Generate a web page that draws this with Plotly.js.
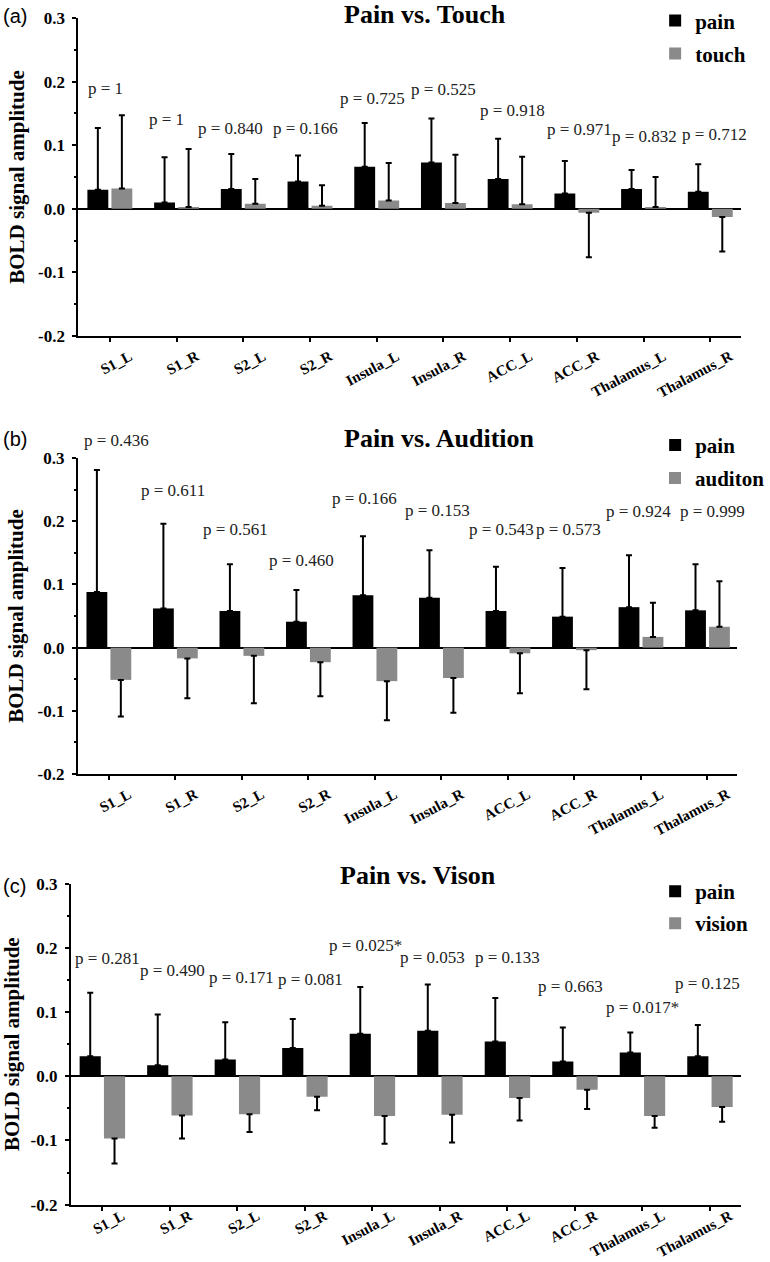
<!DOCTYPE html>
<html>
<head>
<meta charset="utf-8">
<script src="https://cdn.plot.ly/plotly-3.0.1.min.js"></script>
<style>
  html, body { margin: 0; padding: 0; background: #fff; }
  #chart { width: 770px; height: 1262px; }
</style>
</head>
<body>
<div id="chart"></div>
<script>
// ---------------- DATA ----------------
const regions = ['S1_L', 'S1_R', 'S2_L', 'S2_R', 'Insula_L', 'Insula_R', 'ACC_L', 'ACC_R', 'Thalamus_L', 'Thalamus_R'];

// Panel (a) Pain vs. Touch
const painA     = [0.030, 0.010, 0.031, 0.043, 0.066, 0.073, 0.047, 0.024, 0.031, 0.027];
const painAErr  = [0.097, 0.071, 0.055, 0.041, 0.069, 0.069, 0.063, 0.051, 0.030, 0.043];
const touchA    = [0.032, 0.003, 0.008, 0.005, 0.013, 0.009, 0.007, -0.006, 0.003, -0.013];
const touchAErr = [0.115, 0.091, 0.039, 0.032, 0.059, 0.076, 0.075, 0.070, 0.047, 0.054];
const pValuesA  = ['p = 1', 'p = 1', 'p = 0.840', 'p = 0.166', 'p = 0.725', 'p = 0.525', 'p = 0.918', 'p = 0.971', 'p = 0.832', 'p = 0.712'];

// Panel (b) Pain vs. Audition
const painB        = [0.088, 0.062, 0.058, 0.041, 0.083, 0.079, 0.058, 0.049, 0.064, 0.059];
const painBErr     = [0.193, 0.134, 0.074, 0.050, 0.093, 0.075, 0.070, 0.077, 0.082, 0.073];
const auditionB    = [-0.051, -0.017, -0.013, -0.023, -0.053, -0.048, -0.009, -0.004, 0.017, 0.033];
const auditionBErr = [0.058, 0.063, 0.075, 0.054, 0.062, 0.055, 0.063, 0.062, 0.054, 0.072];
const pValuesB     = ['p = 0.436', 'p = 0.611', 'p = 0.561', 'p = 0.460', 'p = 0.166', 'p = 0.153', 'p = 0.543', 'p = 0.573', 'p = 0.924', 'p = 0.999'];

// Panel (c) Pain vs. Vison
const painC      = [0.031, 0.017, 0.026, 0.044, 0.066, 0.071, 0.054, 0.023, 0.037, 0.031];
const painCErr   = [0.099, 0.079, 0.058, 0.045, 0.073, 0.072, 0.068, 0.053, 0.031, 0.049];
const visionC    = [-0.097, -0.061, -0.059, -0.032, -0.062, -0.060, -0.034, -0.021, -0.062, -0.048];
const visionCErr = [0.039, 0.036, 0.028, 0.021, 0.043, 0.043, 0.035, 0.030, 0.018, 0.023];
const pValuesC   = ['p = 0.281', 'p = 0.490', 'p = 0.171', 'p = 0.081', 'p = 0.025*', 'p = 0.053', 'p = 0.133', 'p = 0.663', 'p = 0.017*', 'p = 0.125'];

const panelTitles = ['Pain vs. Touch', 'Pain vs. Audition', 'Pain vs. Vison'];
const panelLetters = ['(a)', '(b)', '(c)'];
const seriesNames = [['pain', 'touch'], ['pain', 'auditon'], ['pain', 'vision']];
const yTickVals = [-0.2, -0.1, 0.0, 0.1, 0.2, 0.3];
const yTickText = ['-0.2', '-0.1', '0.0', '0.1', '0.2', '0.3'];

// ---------------- STYLE / LAYOUT ----------------
const W = 770, H = 1262;
const SERIF = '"Liberation Serif", "Times New Roman", Times, serif';
const SANS = '"Liberation Sans", Arial, sans-serif';
const BLACK = '#000000';
const GRAY = '#8a8a8a';
const px = v => v / W;
const py = v => 1 - v / H;
const Y_MIN = -0.2, Y_MAX = 0.3;

// pixel geometry of the three plot areas
const boxes = [
  { l: 78.5, r: 742, t: 16,    b: 334.6,  x0: 110,   step: 66.8, lblOff: 0 },
  { l: 78,   r: 738, t: 456.7, b: 773.3,  x0: 109,   step: 66.6, lblOff: 0 },
  { l: 71,   r: 742, t: 883,   b: 1204.6, x0: 102.5, step: 67.6, lblOff: -9 }
];
// data value -> paper fraction (lets labels sit above the axis range)
function valToPaper(k, v) {
  const bx = boxes[k];
  return py(bx.t + (Y_MAX - v) / (Y_MAX - Y_MIN) * (bx.b - bx.t));
}

// p-label placement: [x offset from category, y in data units]
const pPlace = [
  [[-0.06, 0.189], [-0.15, 0.140], [-0.19, 0.127], [-0.07, 0.127], [-0.06, 0.173], [0.00, 0.187], [0.03, 0.155], [0.04, 0.125], [0.02, 0.114], [0.07, 0.117]],
  [[0.12, 0.328], [-0.04, 0.248], [-0.09, 0.187], [-0.10, 0.138], [-0.16, 0.236], [-0.06, 0.217], [-0.10, 0.187], [-0.09, 0.187], [-0.03, 0.216], [0.07, 0.216]],
  [[0.08, 0.183], [0.04, 0.165], [0.06, 0.154], [0.08, 0.151], [-0.10, 0.204], [-0.11, 0.185], [0.00, 0.185], [-0.07, 0.140], [0.00, 0.107], [-0.04, 0.145]]
];
const titlePos = [[426, 13], [440, 437], [419, 875]];
const letterPos = [[15, 14], [15, 438], [15, 885]];
const legendPos = [[19, 52], [444, 477], [891, 923]];

function errPlus(vals, errs) { return vals.map((v, i) => (v >= 0 ? errs[i] : 0)); }
function errMinus(vals, errs) { return vals.map((v, i) => (v < 0 ? errs[i] : 0)); }

function barTrace(name, vals, errs, color, k, legendId) {
  const suf = k === 0 ? '' : String(k + 1);
  return {
    type: 'bar',
    name: name,
    x: regions,
    y: vals,
    xaxis: 'x' + suf,
    yaxis: 'y' + suf,
    legend: legendId,
    marker: { color: color, line: { width: 0 } },
    error_y: {
      type: 'data', symmetric: false,
      array: errPlus(vals, errs),
      arrayminus: errMinus(vals, errs),
      color: BLACK, thickness: 2, width: 3
    },
    hoverinfo: 'x+y+name'
  };
}

const panelData = [
  [painA, painAErr, touchA, touchAErr, pValuesA],
  [painB, painBErr, auditionB, auditionBErr, pValuesB],
  [painC, painCErr, visionC, visionCErr, pValuesC]
];

const traces = [];
const layout = {
  width: W, height: H,
  margin: { l: 0, r: 0, t: 0, b: 0, pad: 0 },
  paper_bgcolor: '#ffffff',
  plot_bgcolor: 'rgba(0,0,0,0)',
  barmode: 'group',
  bargap: 0.28,
  bargroupgap: 0.13,
  showlegend: true,
  annotations: [],
  font: { family: SERIF, color: BLACK }
};

panelData.forEach((pd, k) => {
  const suf = k === 0 ? '' : String(k + 1);
  const bx = boxes[k];
  const legA = 'legend' + (k === 0 ? '' : String(2 * k + 1));
  const legB = 'legend' + String(2 * k + 2);
  traces.push(barTrace(seriesNames[k][0], pd[0], pd[1], BLACK, k, legA));
  traces.push(barTrace(seriesNames[k][1], pd[2], pd[3], GRAY, k, legB));

  const xr = [(bx.l - bx.x0) / bx.step, (bx.r - bx.x0) / bx.step];
  layout['xaxis' + suf] = {
    domain: [px(bx.l), px(bx.r)],
    anchor: 'y' + suf,
    type: 'category',
    range: xr,
    showgrid: false, zeroline: false,
    showline: true, linecolor: BLACK, linewidth: 2,
    ticks: 'outside', ticklen: 4, tickwidth: 2, tickcolor: BLACK,
    tickangle: -28,
    ticklabelshift: 20,
    ticklabelstandoff: bx.lblOff,
    tickfont: { family: SERIF, size: 15, weight: 'bold', color: BLACK },
    automargin: false,
    fixedrange: true
  };
  layout['yaxis' + suf] = {
    domain: [py(bx.b), py(bx.t)],
    anchor: 'x' + suf,
    range: [Y_MIN, Y_MAX],
    tickmode: 'array', tickvals: yTickVals, ticktext: yTickText,
    showgrid: false,
    zeroline: true, zerolinecolor: BLACK, zerolinewidth: 2,
    showline: true, linecolor: BLACK, linewidth: 2,
    ticks: 'outside', ticklen: 4, tickwidth: 2, tickcolor: BLACK,
    ticklabelstandoff: 4,
    minor: { tickmode: 'linear', tick0: 0, dtick: 0.05, ticks: 'outside', ticklen: 2, tickwidth: 2, tickcolor: BLACK },
    tickfont: { family: SERIF, size: 17, weight: 'bold', color: BLACK },
    title: { text: 'BOLD signal amplitude', font: { family: SERIF, size: 21, weight: 'bold', color: BLACK }, standoff: 8 },
    automargin: false,
    fixedrange: true
  };

  // legends
  [legA, legB].forEach((lid, j) => {
    layout[lid] = {
      x: px(656), xanchor: 'left',
      y: py(legendPos[k][j]), yanchor: 'middle',
      bgcolor: 'rgba(0,0,0,0)', borderwidth: 0,
      font: { family: SERIF, size: 21, weight: 'bold', color: BLACK },
      itemclick: false, itemdoubleclick: false
    };
  });

  // p-value labels
  pd[4].forEach((txt, i) => {
    layout.annotations.push({
      xref: 'x' + suf, yref: 'paper',
      x: i + pPlace[k][i][0], y: valToPaper(k, pPlace[k][i][1]),
      text: txt, showarrow: false,
      xanchor: 'center', yanchor: 'middle',
      font: { family: SERIF, size: 17, color: '#222222' }
    });
  });

  // panel title
  layout.annotations.push({
    xref: 'paper', yref: 'paper',
    x: px(titlePos[k][0]), y: py(titlePos[k][1]),
    text: panelTitles[k], showarrow: false,
    xanchor: 'center', yanchor: 'middle',
    font: { family: SERIF, size: 26, weight: 'bold', color: BLACK }
  });
  // panel letter
  layout.annotations.push({
    xref: 'paper', yref: 'paper',
    x: px(letterPos[k][0]), y: py(letterPos[k][1]),
    text: panelLetters[k], showarrow: false,
    xanchor: 'center', yanchor: 'middle',
    font: { family: SANS, size: 20, color: BLACK }
  });
});

Plotly.newPlot('chart', traces, layout, { displayModeBar: false, staticPlot: true });
</script>
</body>
</html>
